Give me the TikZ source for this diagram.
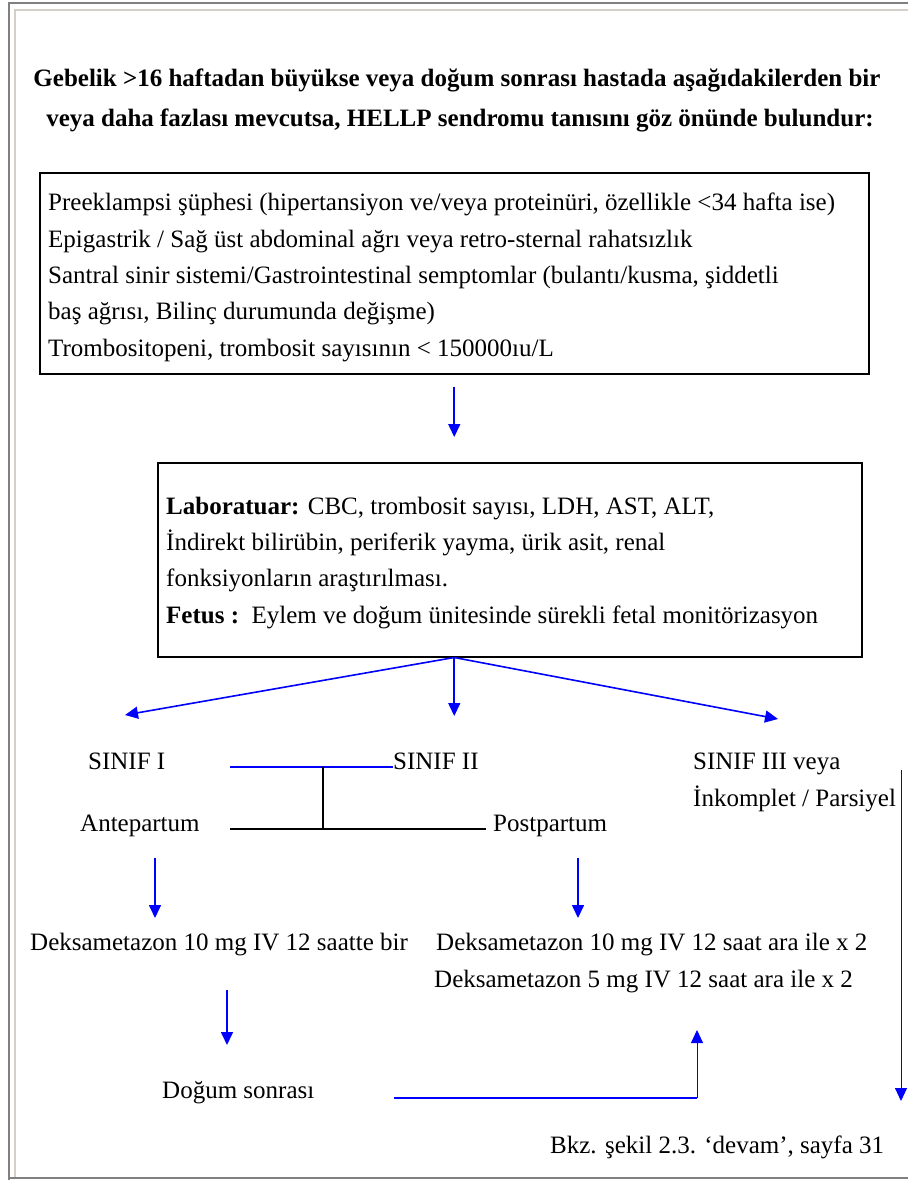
\documentclass[tikz,border=0pt]{standalone}
\usepackage{fontspec}
\setmainfont{Liberation Serif}
\usetikzlibrary{arrows.meta,calc}
\definecolor{frameDark}{HTML}{808080}
\definecolor{frameLight}{HTML}{D4D0C8}
\definecolor{flowBlue}{HTML}{0000FF}

\begin{document}
\begin{tikzpicture}[x=1pt,y=-1pt,
  txt/.style={anchor=base west, inner sep=0pt, font=\fontsize{25}{30}\selectfont},
  ttl/.style={anchor=base, inner sep=0pt, font=\fontsize{25}{30}\selectfont\bfseries},
  box/.style={draw=black, line width=1.5pt, anchor=north west, inner sep=0pt},
  tip/.style={-{Triangle[length=13pt,width=12pt]}},
  flow/.style={draw=flowBlue, line width=1.6pt, tip},
  thinflow/.style={draw=flowBlue, line width=0.9pt, tip},
  link/.style={draw=flowBlue, line width=1.6pt},
  bar/.style={draw=black, line width=1.6pt}
]
\useasboundingbox (0,0) rectangle (908,1180);

% page frame
\draw[frameDark, line width=2pt] (908,3) -- (9,3) -- (9,1180);
\draw[frameDark, line width=2.5pt] (8,1178) -- (908,1178);
\draw[frameLight, line width=2pt] (908,10) -- (15,10) -- (15,1177);

% heading
\node[ttl] (t1) at (457,87) {Gebelik >16 haftadan büyükse veya doğum sonrası hastada aşağıdakilerden bir};
\node[ttl] (t2) at (460,127) {veya daha fazlası mevcutsa, HELLP sendromu tanısını göz önünde bulundur:};

% symptoms box
\node[box, minimum width=829pt, minimum height=201pt] (box1) at (39,172) {};
\node[txt] (s1) at (48,210) {Preeklampsi şüphesi (hipertansiyon ve/veya proteinüri, özellikle <34 hafta ise)};
\node[txt] (s2) at (48,247) {Epigastrik / Sağ üst abdominal ağrı veya retro-sternal rahatsızlık};
\node[txt] (s3) at (48,283) {Santral sinir sistemi/Gastrointestinal semptomlar (bulantı/kusma, şiddetli};
\node[txt] (s4) at (48,319) {baş ağrısı, Bilinç durumunda değişme)};
\node[txt] (s5) at (48,356) {Trombositopeni, trombosit sayısının < 150000ıu/L};

% laboratory box
\node[box, minimum width=704pt, minimum height=194pt] (box2) at (157,462) {};
\node[txt] (l1) at (166,514) {\textbf{Laboratuar:} CBC, trombosit sayısı, LDH, AST, ALT,};
\node[txt] (l2) at (166,550) {İndirekt bilirübin, periferik yayma, ürik asit, renal};
\node[txt] (l3) at (166,586) {fonksiyonların araştırılması.};
\node[txt] (l4) at (166,623) {\textbf{Fetus :}\ \ Eylem ve doğum ünitesinde sürekli fetal monitörizasyon};

\coordinate (split) at (box1.south |- box2.south);
\draw[flow] ($(box1.south)+(0,12)$) -- ($(box2.north -| box1.south)+(0,-25)$);

% classes
\node[txt] (c1) at (88,769) {SINIF I};
\node[txt] (c2) at (393,769) {SINIF II};
\node[txt] (c3) at (693,769) {SINIF III veya};
\node[txt] (c3b) at (693,806) {İnkomplet / Parsiyel};

\draw[flow] (split) -- (125,715);
\draw[flow] (split) -- (split |- 0,716);
\draw[flow] (split) -- (778,719);

\coordinate (j1) at (230,767);
\coordinate (j2) at (323,767);
\coordinate (j3) at (323,829);
\draw[link] (j1) -- (c2.west |- j1);
\draw[bar] (j2) -- (j3);
\draw[bar] (230,829) -- (486,829);

\node[txt] (ante) at (80,831) {Antepartum};
\node[txt] (post) at (493,831) {Postpartum};

\node[txt] (d1) at (30,950) {Deksametazon 10 mg IV 12 saatte bir};
\node[txt] (d2) at (436,950) {Deksametazon 10 mg IV 12 saat ara ile x 2};
\node[txt] (d3) at (434,987) {Deksametazon 5 mg IV 12 saat ara ile x 2};

\draw[flow] (155,858) -- (155,918);
\draw[flow] (578,858) -- (578,918);

\node[txt] (ds) at (162,1098) {Doğum sonrası};
\draw[flow] (227,990) -- (227,1045);

\coordinate (r1) at (394,1098);
\coordinate (r2) at (697,1098);
\draw[link] (r1) -- (r2);
\draw[thinflow] (r2) -- (697,1030);

\node[txt] (bkz) at (550,1153) {Bkz. şekil 2.3. ‘devam’, sayfa 31};
\draw[thinflow] (901,770) -- (901,1101);
\end{tikzpicture}
\end{document}
